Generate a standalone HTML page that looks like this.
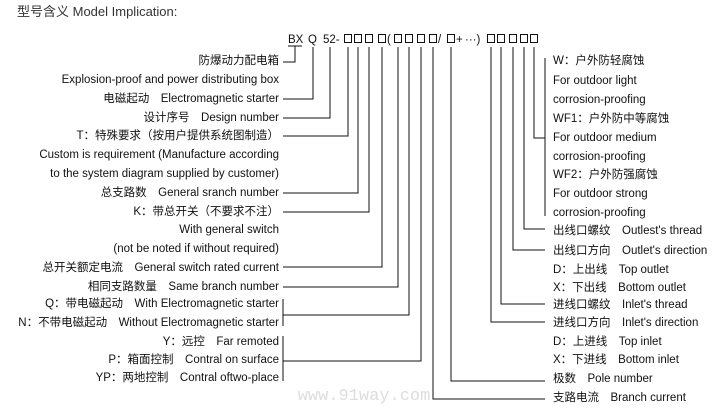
<!DOCTYPE html>
<html><head><meta charset="utf-8"><style>
html,body{margin:0;padding:0;background:#fff;}
svg{display:block}
text{font-family:"Liberation Sans","Noto Sans CJK SC",sans-serif;font-size:11.5px;fill:#111;}
</style></head><body>
<svg width="713" height="410" viewBox="0 0 713 410" xmlns="http://www.w3.org/2000/svg">
<text x="17" y="16" style="font-size:13px;fill:#333">型号含义 Model Implication:</text>
<text x="364" y="400" style="font-family:'Liberation Mono',monospace;font-size:17px;fill:#ddd" text-anchor="middle">www.91way.com</text>

<g style="font-size:12px">
<text x="288" y="43">BX</text>
<text x="308" y="43">Q</text>
<text x="323" y="43">52-</text>
<text x="387" y="43">(</text>
<text x="438" y="43">/</text>
<text x="456" y="43">+</text>
<text x="465" y="43">···)</text>
</g>
<line x1="288" y1="46" x2="302" y2="46" stroke="#111"/>
<g fill="none" stroke="#111" stroke-width="1">
<rect x="344.5" y="34.5" width="7" height="8"/>
<rect x="354.5" y="34.5" width="7" height="8"/>
<rect x="365.5" y="34.5" width="7" height="8"/>
<rect x="378.5" y="34.5" width="7" height="8"/>
<rect x="394.5" y="34.5" width="7" height="8"/>
<rect x="405.5" y="34.5" width="7" height="8"/>
<rect x="417.5" y="34.5" width="7" height="8"/>
<rect x="429.5" y="34.5" width="7" height="8"/>
<rect x="447.5" y="34.5" width="7" height="8"/>
<rect x="487.5" y="34.5" width="7" height="8"/>
<rect x="497.5" y="34.5" width="7" height="8"/>
<rect x="509.5" y="34.5" width="7" height="8"/>
<rect x="520.5" y="34.5" width="7" height="8"/>
<rect x="530.5" y="34.5" width="7" height="8"/>
</g>

<g fill="none" stroke="#111" stroke-width="1">
<polyline points="295,46 295,62 283,62"/>
<polyline points="313,47 313,99 283,99"/>
<polyline points="330,47 330,118 283,118"/>
<polyline points="348,47 348,136 283,136"/>
<polyline points="358,47 358,193 283,193"/>
<polyline points="369,47 369,212 283,212"/>
<polyline points="382,47 382,267 283,267"/>
<polyline points="398,47 398,287 283,287"/>
<polyline points="409,47 409,315 283,315"/>
<line x1="283" y1="299" x2="283" y2="326"/>
<polyline points="421,47 421,361 283,361"/>
<line x1="283" y1="336" x2="283" y2="381"/>
<polyline points="433,47 433,399 545,399"/>
<polyline points="451,47 451,381 545,381"/>
<polyline points="491,47 491,322 545,322"/>
<polyline points="501,47 501,304 545,304"/>
<polyline points="513,47 513,250 545,250"/>
<polyline points="524,47 524,229 545,229"/>
<polyline points="534,47 534,138 545,138"/>
<line x1="545" y1="58" x2="545" y2="216"/>
</g>

<g text-anchor="end">
<text x="279" y="64">防爆动力配电箱</text>
<text x="279" y="83">Explosion-proof and power distributing box</text>
<text x="279" y="102">电磁起动　Electromagnetic starter</text>
<text x="279" y="121">设计序号　Design number</text>
<text x="279" y="139">T：特殊要求（按用户提供系统图制造）</text>
<text x="279" y="158">Custom is requirement (Manufacture according</text>
<text x="279" y="177">to the system diagram supplied by customer)</text>
<text x="279" y="196">总支路数　General sranch number</text>
<text x="279" y="215">K：带总开关（不要求不注）</text>
<text x="279" y="233">With general switch</text>
<text x="279" y="252">(not be noted if without required)</text>
<text x="279" y="271">总开关额定电流　General switch rated current</text>
<text x="279" y="290">相同支路数量　Same branch number</text>
<text x="279" y="307">Q：带电磁起动　With Electromagnetic starter</text>
<text x="279" y="326">N：不带电磁起动　Without Electromagnetic starter</text>
<text x="279" y="345">Y：远控　Far remoted</text>
<text x="279" y="363">P：箱面控制　Contral on surface</text>
<text x="279" y="381">YP：两地控制　Contral oftwo-place</text>
</g>

<g>
<text x="553" y="64">W：户外防轻腐蚀</text>
<text x="553" y="84">For outdoor light</text>
<text x="553" y="103">corrosion-proofing</text>
<text x="553" y="122">WF1：户外防中等腐蚀</text>
<text x="553" y="141">For outdoor medium</text>
<text x="553" y="160">corrosion-proofing</text>
<text x="553" y="178">WF2：户外防强腐蚀</text>
<text x="553" y="197">For outdoor strong</text>
<text x="553" y="216">corrosion-proofing</text>
<text x="553" y="234">出线口螺纹　Outlest's thread</text>
<text x="553" y="254">出线口方向　Outlet's direction</text>
<text x="553" y="273">D：上出线　Top outlet</text>
<text x="553" y="291">X：下出线　Bottom outlet</text>
<text x="553" y="308">进线口螺纹　Inlet's thread</text>
<text x="553" y="326">进线口方向　Inlet's direction</text>
<text x="553" y="345">D：上进线　Top inlet</text>
<text x="553" y="363">X：下进线　Bottom inlet</text>
<text x="553" y="382">极数　Pole number</text>
<text x="553" y="401">支路电流　Branch current</text>
</g>
</svg>
</body></html>
